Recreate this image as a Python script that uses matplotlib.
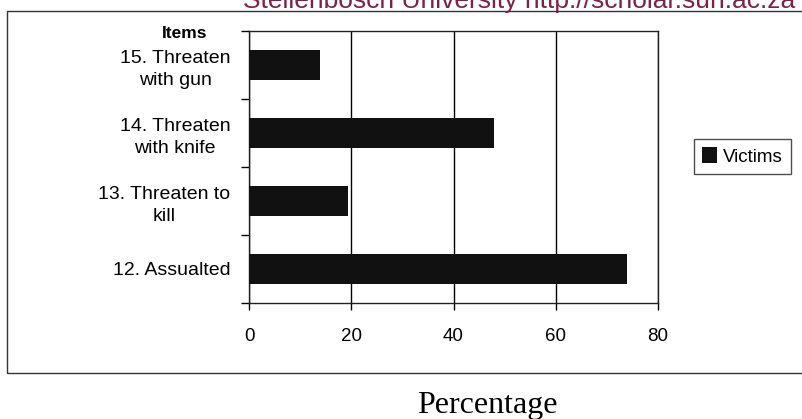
import matplotlib.pyplot as plt
from matplotlib.patches import Rectangle

# Survey items (bottom to top) and share of victims in percent
items = ["12. Assualted", "13. Threaten to\nkill", "14. Threaten\nwith knife", "15. Threaten\nwith gun"]
victims = [74, 19.3, 48, 13.9]
x_ticks = [0, 20, 40, 60, 80]

W, H = 803, 419
fig = plt.figure(figsize=(W / 100, H / 100), dpi=100)
fig.patch.set_facecolor("white")

# plot area in pixel terms, converted to figure fractions
left, right, top, bottom = 249.3, 657.7, 31, 302.7
ax = fig.add_axes([left / W, 1 - bottom / H, (right - left) / W, (bottom - top) / H])

pos = list(range(len(items)))
ax.barh(pos, victims, height=0.44, color="#111111", label="Victims", zorder=3)

ax.set_xlim(0, 80)
ax.set_ylim(-0.5, len(items) - 0.5)
ax.set_xticks(x_ticks)
ax.set_xticklabels([str(t) for t in x_ticks], fontsize=13.5, family="Liberation Sans")
ax.tick_params(axis="x", direction="out", length=5, width=1, pad=13)

# ticks sit between categories, labels at category centres
ax.set_yticks([p - 0.5 for p in pos] + [len(items) - 0.5])
ax.set_yticklabels([])
ax.tick_params(axis="y", which="major", direction="out", length=6, width=1)
ax.set_yticks(pos, minor=True)
ax.set_yticklabels(items, minor=True, fontsize=14, family="Liberation Sans",
                   multialignment="center", linespacing=1.4)
ax.tick_params(axis="y", which="minor", length=0, pad=13.5)

ax.grid(axis="x", color="black", linewidth=1, zorder=1)
for s in ax.spines.values():
    s.set_linewidth(1)
    s.set_color("#222222")

ax.legend(loc="center left", bbox_to_anchor=(694 / W, 1 - 156.5 / H),
          bbox_transform=fig.transFigure, borderaxespad=0, frameon=True,
          fancybox=False, edgecolor="#222222", handlelength=0.8,
          handleheight=0.9, handletextpad=0.3, borderpad=0.45,
          prop={"family": "Liberation Sans", "size": 13.5})

# outer chart frame
fig.patches.append(Rectangle((7.5 / W, 1 - 373 / H), 1.0, (373 - 11) / H,
                             transform=fig.transFigure, fill=False,
                             edgecolor="#333333", linewidth=1))

fig.text(185 / W, 1 - 38 / H, "Items", ha="center", va="baseline",
         fontsize=12.5, fontweight="bold", family="Liberation Sans")
fig.text(487 / W, 1 - 413 / H, "Percentage", ha="center", va="baseline",
         fontsize=23, family="Liberation Serif")
fig.text(243 / W, 1 - 8 / H, "Stellenbosch University http://scholar.sun.ac.za",
         ha="left", va="baseline", fontsize=19, color="#7b2346",
         family="Liberation Sans")

fig.savefig("out.png", dpi=100)
